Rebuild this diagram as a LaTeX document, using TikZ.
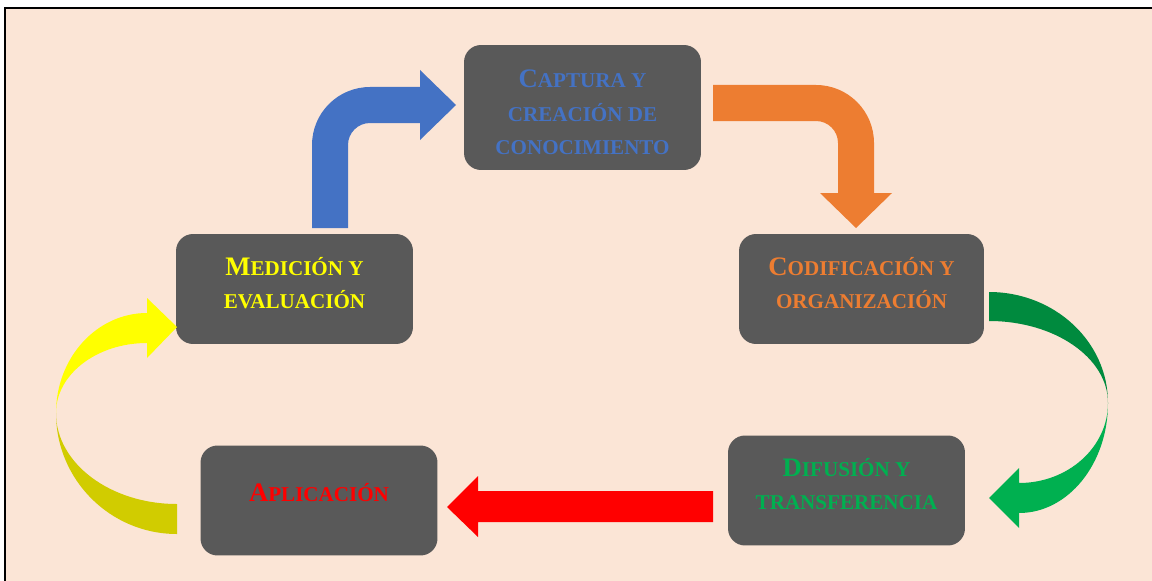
\documentclass[tikz,border=0pt]{standalone}
\usepackage{fontspec}
\setmainfont{Liberation Serif}
\definecolor{peach}{HTML}{FBE5D6}
\definecolor{boxgray}{HTML}{595959}
\definecolor{capblue}{HTML}{4472C4}
\definecolor{codorange}{HTML}{ED7D31}
\definecolor{difgreen}{HTML}{00B050}
\definecolor{difdark}{HTML}{008A3E}
\definecolor{medyellow}{HTML}{FFFF00}
\definecolor{meddark}{HTML}{D1CC00}
\definecolor{aplred}{HTML}{FF0000}
\newcommand{\bigfirst}[1]{{\fontsize{15.2}{18.8}\selectfont #1}}

\begin{document}
\begin{tikzpicture}[x = 0.02cm, y = -0.02cm]
        \useasboundingbox (0,0) rectangle (1152,581);
        \begin{scope}
            \clip (0,0) rectangle (1152,581);
            \draw[fill = peach, line width = 1.2pt] (5,8) rectangle (1170,600);
        \end{scope}
        \begin{scope}[every node/.append style = {fill = boxgray, rounded corners = 0.34cm, align = center, inner sep = 0pt, minimum width = 4.74cm, minimum height = 2.2cm, font = \bfseries\fontsize{12}{18.8}\selectfont}]
            \node[minimum height = 2.5cm, text = capblue, text height = 53pt, text depth = 0pt] (capt) at (582.5,107.5) {\bigfirst{C}APTURA Y\\CREACIÓN DE\\CONOCIMIENTO};
            \node[text = medyellow, text depth = 7pt] (medic) at (294.5,289) {\bigfirst{M}EDICIÓN Y\\EVALUACIÓN};
            \node[minimum width = 4.9cm, text = codorange, text depth = 7pt] (codif) at (861.5,289) {\bigfirst{C}ODIFICACIÓN Y\\ORGANIZACIÓN};
            \node[text = difgreen, text depth = 7pt] (difus) at (846.5,490.5) {\bigfirst{D}IFUSIÓN Y\\TRANSFERENCIA};
            \node[text = aplred, text depth = 9pt] (aplic) at (319,500.5) {\bigfirst{A}PLICACIÓN};
        \end{scope}
        \fill[capblue] (312,228) -- (312,145) arc[start angle = 180, end angle = 270, radius = 58]
            -- (420,87) -- (420,70) -- (456,105) -- (420,140) -- (420,123) -- (370,123)
            arc[start angle = 270, end angle = 180, radius = 22] -- (348,228) -- cycle;
        \fill[codorange] (713,85) -- (816,85) arc[start angle = 270, end angle = 360, radius = 58]
            -- (874,193) -- (892,193) -- (856,228) -- (820,193) -- (838,193) -- (838,143)
            arc[start angle = 0, end angle = -90, radius = 22] -- (713,121) -- cycle;
        \fill[difdark] (989,292) arc[start angle = -90, end angle = 0, x radius = 119, y radius = 111]
            arc[start angle = 0, end angle = -90, x radius = 119, y radius = 82] -- cycle;
        \fill[difgreen] (1108,403) arc[start angle = 0, end angle = 90, x radius = 89, y radius = 110]
            -- (1019,528) -- (989,498) -- (1019,468) -- (1019,483)
            arc[start angle = 90, end angle = 0, x radius = 89, y radius = 80] -- cycle;
        \fill[aplred] (713,491) -- (478,491) -- (478,476) -- (447,507) -- (478,537) -- (478,522) -- (713,522) -- cycle;
        \fill[meddark] (177,504) -- (177,534) arc[start angle = 90, end angle = 180, radius = 121]
            arc[start angle = 180, end angle = 90, x radius = 121, y radius = 91] -- cycle;
        \fill[medyellow] (56,413) arc[start angle = 180, end angle = 270, x radius = 91, y radius = 100]
            -- (147,298) -- (177,327) -- (147,358) -- (147,343)
            arc[start angle = 270, end angle = 180, x radius = 91, y radius = 70] -- cycle;
    \end{tikzpicture}
\end{document}
